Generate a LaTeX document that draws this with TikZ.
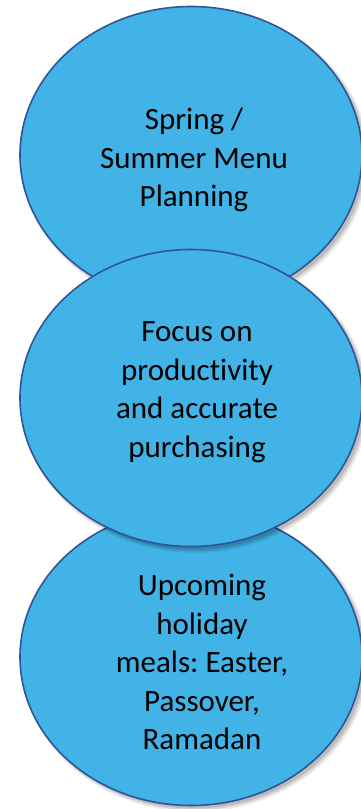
\documentclass[tikz,border=0pt]{standalone}
\usepackage{fontspec}
\setmainfont{Carlito}[Ligatures={NoCommon}]
\usetikzlibrary{shapes.geometric,shadows}
\definecolor{ellfill}{HTML}{41B3E6}
\definecolor{elldraw}{HTML}{2F5597}
\tikzset{
  blob/.style={ellipse, draw=elldraw, line width=1.6pt, fill=ellfill,
    minimum width=342pt, minimum height=297pt, inner sep=0pt,
    general shadow={shadow xshift=3pt, shadow yshift=-3pt, opacity=0.12, fill=black, shadow scale=1.0},
    general shadow={shadow xshift=3.5pt, shadow yshift=-3.5pt, opacity=0.10, fill=black, shadow scale=1.008},
    general shadow={shadow xshift=4pt, shadow yshift=-4pt, opacity=0.07, fill=black, shadow scale=1.016}},
  blobtext/.style={align=center, text=black, inner sep=0pt,
    font=\frenchspacing\fontsize{31}{38.5}\selectfont}
}
\begin{document}
\begin{tikzpicture}[x=1pt,y=-1pt]
\useasboundingbox (0,0) rectangle (361,809);
\node[blob] (e1) at (191,155) {};
\node[blob] (e3) at (191,657) {};
\node[blob] (e2) at (191,398) {};
\node[blobtext] (t1) at (194,160) {Spring /\\Summer Menu\\Planning};
\node[blobtext] (t2) at (197,392) {Focus on\\productivity\\and accurate\\purchasing};
\node[blobtext] (t3) at (202,662) {Upcoming\\holiday\\meals: Easter,\\Passover,\\Ramadan};
\end{tikzpicture}
\end{document}
